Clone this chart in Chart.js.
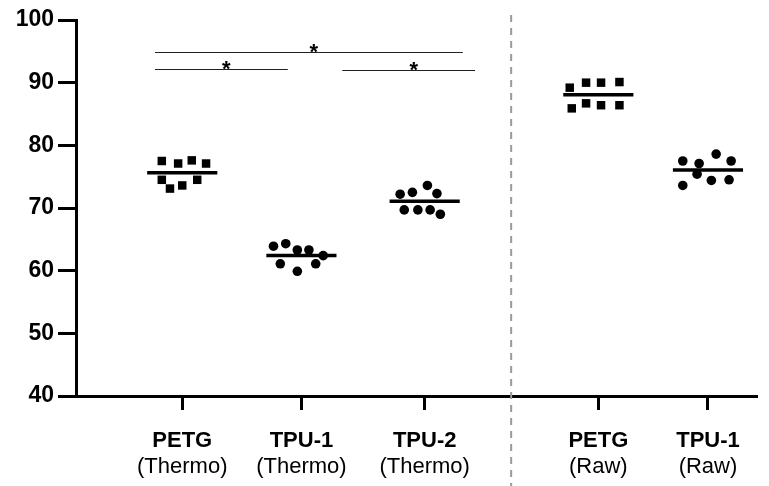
<!DOCTYPE html>
<html>
<head>
<meta charset="utf-8">
<script src="https://cdn.jsdelivr.net/npm/chart.js@4.4.1/dist/chart.umd.min.js"></script>
<style>
    html,body{margin:0;padding:0;background:#fff;}
    #wrap{width:769px;height:486px;position:relative;}
</style>
</head>
<body>
<div id="wrap"><canvas id="dotChart"></canvas></div>
<script>
/* =====================================
   DATA
===================================== */

const groupNames = ["PETG","TPU-1","TPU-2","PETG","TPU-1"];
const groupConds = ["(Thermo)","(Thermo)","(Thermo)","(Raw)","(Raw)"];

const petgThermo = [77.5,77.1,77.6,77.1,74.5,73.1,73.6,74.5];
const tpu1Thermo = [63.9,64.3,63.3,63.3,62.4,61.1,59.9,61.1];
const tpu2Thermo = [72.2,72.5,73.6,72.3,69.7,69.7,69.7,69.0];
const petgRaw    = [89.2,90.0,90.0,90.1,85.9,86.7,86.4,86.4];
const tpu1Raw    = [77.5,77.1,78.6,77.5,75.4,73.6,74.4,74.5];

const yTicks = [40,50,60,70,80,90,100];

/* layout of the groups along x (0..100) */
const groupX = [15.6,33.1,51.2,76.7,92.8];
const dividerX = 63.9;

/* horizontal spread of dots inside each group */
const jitter = [
    [-3.0,-0.6,1.4,3.5,-3.0,-1.8,0.0,2.2],
    [-4.1,-2.3,-0.6,1.1,3.2,-3.1,-0.6,2.1],
    [-3.6,-1.8,0.4,1.8,-3.0,-1.0,0.8,2.3],
    [-4.2,-1.8,0.4,3.1,-3.9,-1.8,0.4,3.1],
    [-3.7,-1.3,1.2,3.4,-1.6,-3.7,0.5,3.1]
];

/* significance bars: x from, x to, y level */
const brackets = [
    [11.6,56.8,94.9],
    [11.6,31.1,92.2],
    [39.1,58.6,92.1]
];

const groupValues = [petgThermo,tpu1Thermo,tpu2Thermo,petgRaw,tpu1Raw];
const groupShape = ["rect","circle","circle","rect","circle"];

/* ==========================
   DATASETS
========================== */

const datasets = [];

groupValues.forEach((vals,g)=>{

    const mean = vals.reduce((a,b)=>a+b,0)/vals.length;

    datasets.push({
        type:"line",
        data:[
            {x:groupX[g]-5.15,y:mean},
            {x:groupX[g]+5.15,y:mean}
        ],
        borderColor:"#000",
        borderWidth:3.5,
        pointRadius:0,
        showLine:true
    });

    datasets.push({
        type:"scatter",
        data:vals.map((v,i)=>({x:groupX[g]+jitter[g][i],y:v})),
        pointStyle:groupShape[g],
        pointRadius:groupShape[g]==="rect"?6:4.8,
        backgroundColor:"#000",
        borderColor:"#000",
        borderWidth:0
    });

});

/* ==========================
   EXTRAS (labels, divider, stars)
========================== */

const extras = {
    id:"extras",
    afterDraw(chart){
        const ctx = chart.ctx;
        const xs = chart.scales.x;
        const ys = chart.scales.y;
        const bottom = chart.chartArea.bottom;

        ctx.save();

        // dashed divider
        const dx = xs.getPixelForValue(dividerX);
        ctx.strokeStyle = "#9a9a9a";
        ctx.lineWidth = 2;
        ctx.setLineDash([7,6]);
        ctx.beginPath();
        ctx.moveTo(dx,15);
        ctx.lineTo(dx,chart.height);
        ctx.stroke();
        ctx.setLineDash([]);

        // brackets + stars
        ctx.strokeStyle = "#222";
        ctx.lineWidth = 1;
        ctx.fillStyle = "#000";
        ctx.font = "bold 22px 'Liberation Sans', Arial, sans-serif";
        ctx.textAlign = "center";
        ctx.textBaseline = "alphabetic";
        brackets.forEach(b=>{
            const x1 = xs.getPixelForValue(b[0]);
            const x2 = xs.getPixelForValue(b[1]);
            const y = Math.round(ys.getPixelForValue(b[2]))+0.5;
            ctx.beginPath();
            ctx.moveTo(x1,y);
            ctx.lineTo(x2,y);
            ctx.stroke();
            ctx.fillText("*",(x1+x2)/2+5,y+6);
        });

        // category labels
        ctx.textBaseline = "middle";
        groupX.forEach((v,i)=>{
            const x = xs.getPixelForValue(v);
            ctx.font = "bold 22px 'Liberation Sans', Arial, sans-serif";
            ctx.fillText(groupNames[i],x,bottom+45);
            ctx.font = "22px 'Liberation Sans', Arial, sans-serif";
            ctx.fillText(groupConds[i],x,bottom+71);
        });

        ctx.restore();
    }
};

/* ==========================
   CHART
========================== */

new Chart(document.getElementById("dotChart"),{

    type:"scatter",

    data:{datasets},

    options:{

        responsive:true,
        maintainAspectRatio:false,
        animation:false,

        layout:{
            padding:{top:20,right:12,left:0,bottom:0}
        },

        plugins:{
            legend:{display:false},
            tooltip:{enabled:false}
        },

        scales:{

            x:{
                type:"linear",
                min:0,
                max:100,
                afterBuildTicks:(s)=>{
                    s.ticks = groupX.map(v=>({value:v}));
                },
                afterFit:(s)=>{ s.height = 90; },
                ticks:{display:false,autoSkip:false},
                grid:{
                    drawOnChartArea:false,
                    drawTicks:true,
                    tickLength:14,
                    tickWidth:3,
                    tickColor:"#000"
                },
                border:{display:true,color:"#000",width:3}
            },

            y:{
                min:40,
                max:100,
                afterBuildTicks:(s)=>{
                    s.ticks = yTicks.map(v=>({value:v}));
                },
                afterFit:(s)=>{ s.width = 76; },
                ticks:{
                    color:"#000",
                    padding:4,
                    font:{family:"'Liberation Sans', Arial, sans-serif",size:23,weight:"bold"}
                },
                grid:{
                    drawOnChartArea:false,
                    drawTicks:true,
                    tickLength:18,
                    tickWidth:3,
                    tickColor:"#000"
                },
                border:{display:true,color:"#000",width:3}
            }

        }

    },

    plugins:[extras]

});
</script>
</body>
</html>
